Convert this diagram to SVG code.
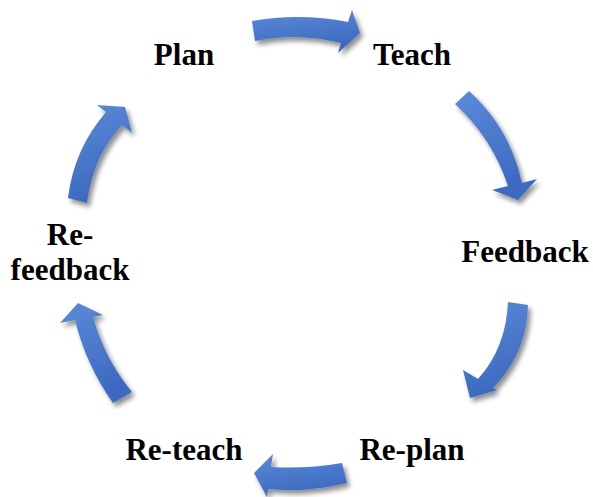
<svg xmlns="http://www.w3.org/2000/svg" width="593" height="497" viewBox="0 0 593 497">
  <style>
    .lbl { font-family: "Liberation Serif", "Times New Roman", serif; font-weight: bold; font-size: 31px; fill: #000; text-anchor: middle; }
    .arrow { fill: url(#blueGrad); filter: url(#shadow); }
  </style>
  <defs>
    <linearGradient id="blueGrad" x1="0" y1="0" x2="0.3" y2="1">
      <stop offset="0" stop-color="#5b8bd8"/>
      <stop offset="1" stop-color="#3c69c0"/>
    </linearGradient>
    <filter id="shadow" x="-30%" y="-30%" width="160%" height="160%">
      <feGaussianBlur in="SourceAlpha" stdDeviation="2.5"/>
      <feOffset dx="3" dy="4" result="b"/>
      <feComponentTransfer><feFuncA type="linear" slope="0.45"/></feComponentTransfer>
      <feMerge><feMergeNode/><feMergeNode in="SourceGraphic"/></feMerge>
    </filter>
  </defs>
  <rect width="593" height="497" fill="#ffffff"/>

  <g id="connectors">
    <path id="arrow-plan-teach" class="arrow" d="M252,21 Q300,12.5 348,22 L352,10 L360,33 L338,53 L341,43 Q298,32 255,41 Z"/>
    <path id="arrow-teach-feedback" class="arrow" d="M469,91 Q510,128 522,183 L537,179 L518,200 L492,190 L508,186 Q492,138 455,104 Z"/>
    <path id="arrow-feedback-replan" class="arrow" d="M528,305 Q527,353 493,388 L497,390 L470,398 L463,370 L478,379 Q506,348 508,302 Z"/>
    <path id="arrow-replan-reteach" class="arrow" d="M342,463 Q307,469 271,467 L273,454 L254,473 L267,497 L268,489 Q307,493 347,483 Z"/>
    <path id="arrow-reteach-refeedback" class="arrow" d="M113,403 Q86,365 75,320 L60,323 L78,303 L103,315 L93,317 Q104.5,358.6 132,392 Z"/>
    <path id="arrow-refeedback-plan" class="arrow" d="M68,198 Q74,149 106,112 L97,105 L125,107 L132,133 L122,125 Q93,156 87,203 Z"/>
  </g>

  <g id="node-plan"><text class="lbl" x="184" y="65">Plan</text></g>
  <g id="node-teach"><text class="lbl" x="412" y="65">Teach</text></g>
  <g id="node-feedback"><text class="lbl" x="525" y="262">Feedback</text></g>
  <g id="node-replan"><text class="lbl" x="412" y="460">Re-plan</text></g>
  <g id="node-reteach"><text class="lbl" x="184" y="460">Re-teach</text></g>
  <g id="node-refeedback">
    <text class="lbl" x="70" y="244.5">Re-</text>
    <text class="lbl" x="70" y="279.5">feedback</text>
  </g>
</svg>
